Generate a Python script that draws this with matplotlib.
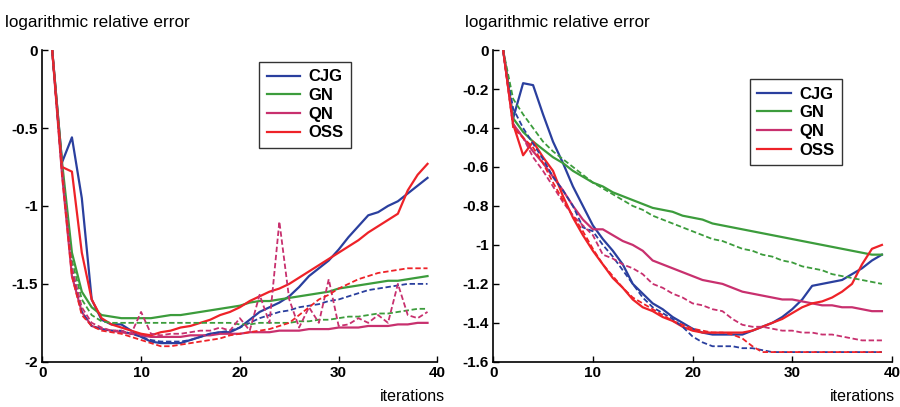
import numpy as np
import matplotlib as mpl
mpl.use('Agg')
from matplotlib import pyplot as plt
from matplotlib.ticker import FuncFormatter

# iterations 1..39
iters = np.arange(1, 40)
methods = ['CJG', 'GN', 'QN', 'OSS']
colors = {'CJG': '#2a3f9e', 'GN': '#3c9c3c', 'QN': '#c8306e', 'OSS': '#ee2228'}

# left panel, solid curves
left_solid = {
    'CJG': [0, -0.72, -0.56, -0.95, -1.6, -1.73, -1.76, -1.76, -1.8, -1.84, -1.87, -1.88, -1.88,
            -1.88, -1.86, -1.84, -1.82, -1.81, -1.81, -1.78, -1.73, -1.68, -1.65, -1.62, -1.58,
            -1.52, -1.45, -1.4, -1.35, -1.28, -1.2, -1.13, -1.06, -1.04, -1.0, -0.97, -0.92,
            -0.87, -0.82],
    'GN': [0, -0.72, -1.3, -1.55, -1.65, -1.7, -1.71, -1.72, -1.72, -1.72, -1.72, -1.71, -1.7,
           -1.7, -1.69, -1.68, -1.67, -1.66, -1.65, -1.64, -1.62, -1.61, -1.61, -1.6, -1.59,
           -1.58, -1.57, -1.56, -1.55, -1.53, -1.52, -1.51, -1.5, -1.49, -1.48, -1.48, -1.47,
           -1.46, -1.45],
    'QN': [0, -0.8, -1.45, -1.68, -1.77, -1.79, -1.8, -1.81, -1.82, -1.83, -1.84, -1.84, -1.84,
           -1.84, -1.83, -1.83, -1.83, -1.82, -1.82, -1.82, -1.81, -1.81, -1.81, -1.8, -1.8,
           -1.8, -1.79, -1.79, -1.79, -1.78, -1.78, -1.78, -1.77, -1.77, -1.77, -1.76, -1.76,
           -1.75, -1.75],
    'OSS': [0, -0.75, -0.78, -1.3, -1.6, -1.72, -1.76, -1.78, -1.8, -1.82, -1.83, -1.81, -1.8,
            -1.78, -1.77, -1.75, -1.73, -1.7, -1.68, -1.65, -1.61, -1.58, -1.55, -1.53, -1.5,
            -1.46, -1.42, -1.38, -1.34, -1.3, -1.26, -1.22, -1.17, -1.13, -1.09, -1.05, -0.9,
            -0.8, -0.73],
}
# left panel, dashed curves
left_dashed = {
    'CJG': [0, -0.78, -1.4, -1.68, -1.77, -1.79, -1.8, -1.8, -1.82, -1.84, -1.86, -1.87, -1.87,
            -1.87, -1.86, -1.84, -1.82, -1.81, -1.8, -1.78, -1.75, -1.72, -1.7, -1.68, -1.67,
            -1.65, -1.64, -1.63, -1.61, -1.6, -1.58, -1.56, -1.54, -1.53, -1.52, -1.51, -1.5,
            -1.5, -1.5],
    'GN': [0, -0.75, -1.35, -1.6, -1.7, -1.74, -1.75, -1.75, -1.75, -1.75, -1.75, -1.75, -1.75,
           -1.75, -1.75, -1.75, -1.75, -1.75, -1.75, -1.76, -1.76, -1.75, -1.75, -1.75, -1.75,
           -1.74, -1.74, -1.73, -1.73, -1.72, -1.71, -1.71, -1.7, -1.69, -1.69, -1.68, -1.67,
           -1.66, -1.66],
    'QN': [0, -0.75, -1.4, -1.65, -1.75, -1.78, -1.8, -1.8, -1.82, -1.68, -1.82, -1.83, -1.82,
           -1.82, -1.81, -1.8, -1.8, -1.78, -1.8, -1.72, -1.8, -1.57, -1.75, -1.1, -1.6,
           -1.78, -1.65, -1.75, -1.47, -1.77, -1.76, -1.72, -1.75, -1.7, -1.75, -1.5, -1.7,
           -1.72, -1.68],
    'OSS': [0, -0.8, -1.45, -1.7, -1.77, -1.8, -1.81, -1.82, -1.84, -1.86, -1.88, -1.9, -1.9,
            -1.89, -1.88, -1.87, -1.86, -1.85, -1.83, -1.82, -1.81, -1.8, -1.79, -1.77, -1.75,
            -1.7, -1.65, -1.6, -1.57, -1.53, -1.5, -1.47, -1.45, -1.43, -1.42, -1.41, -1.4,
            -1.4, -1.4],
}

# right panel, solid curves
right_solid = {
    'CJG': [0, -0.35, -0.17, -0.18, -0.33, -0.47, -0.58, -0.7, -0.8, -0.9, -0.97, -1.03, -1.1,
            -1.2, -1.25, -1.3, -1.33, -1.37, -1.4, -1.43, -1.45, -1.46, -1.46, -1.46, -1.46,
            -1.44, -1.42, -1.4, -1.37, -1.33, -1.28, -1.21, -1.2, -1.19, -1.18, -1.15, -1.12,
            -1.08, -1.05],
    'GN': [0, -0.35, -0.42, -0.47, -0.51, -0.55, -0.58, -0.62, -0.65, -0.68, -0.7, -0.73, -0.75,
           -0.77, -0.79, -0.81, -0.82, -0.83, -0.85, -0.86, -0.87, -0.89, -0.9, -0.91, -0.92,
           -0.93, -0.94, -0.95, -0.96, -0.97, -0.98, -0.99, -1.0, -1.01, -1.02, -1.03, -1.04,
           -1.05, -1.05],
    'QN': [0, -0.38, -0.45, -0.52, -0.58, -0.65, -0.72, -0.8, -0.87, -0.92, -0.92, -0.95, -0.98,
           -1.0, -1.03, -1.08, -1.1, -1.12, -1.14, -1.16, -1.18, -1.19, -1.2, -1.22, -1.24,
           -1.25, -1.26, -1.27, -1.28, -1.28, -1.29, -1.3, -1.31, -1.31, -1.32, -1.32, -1.33,
           -1.34, -1.34],
    'OSS': [0, -0.38, -0.54, -0.47, -0.55, -0.62, -0.75, -0.86, -0.95, -1.03, -1.1, -1.17, -1.22,
            -1.28, -1.32, -1.34, -1.37, -1.39, -1.42, -1.44, -1.45, -1.45, -1.45, -1.45, -1.45,
            -1.44, -1.42, -1.4, -1.38, -1.35, -1.32, -1.3, -1.29, -1.27, -1.24, -1.2, -1.1,
            -1.02, -1.0],
}
# right panel, dashed curves
right_dashed = {
    'CJG': [0, -0.3, -0.4, -0.48, -0.56, -0.65, -0.72, -0.8, -0.91, -0.93, -1.0, -1.06, -1.13,
            -1.2, -1.27, -1.32, -1.35, -1.38, -1.42, -1.47, -1.5, -1.52, -1.52, -1.52, -1.53,
            -1.53, -1.54, -1.55, -1.55, -1.55, -1.55, -1.55, -1.55, -1.55, -1.55, -1.55, -1.55,
            -1.55, -1.55],
    'GN': [0, -0.25, -0.33, -0.4, -0.47, -0.52, -0.56, -0.6, -0.64, -0.68, -0.71, -0.74, -0.77,
           -0.8, -0.82, -0.85, -0.87, -0.89, -0.91, -0.93, -0.95, -0.97, -0.98, -1.0, -1.02,
           -1.03, -1.05, -1.06, -1.08, -1.09, -1.11, -1.12, -1.13, -1.15, -1.16, -1.17, -1.18,
           -1.19, -1.2],
    'QN': [0, -0.38, -0.45, -0.55, -0.62, -0.7, -0.78, -0.85, -0.9, -0.95, -1.05, -1.07, -1.1,
           -1.12, -1.15, -1.2, -1.22, -1.25, -1.27, -1.3, -1.31, -1.33, -1.34, -1.38, -1.41,
           -1.42, -1.42, -1.43, -1.44, -1.44, -1.45, -1.45, -1.46, -1.46, -1.47, -1.48, -1.49,
           -1.49, -1.49],
    'OSS': [0, -0.4, -0.45, -0.5, -0.58, -0.68, -0.77, -0.85, -0.93, -1.02, -1.1, -1.16, -1.22,
            -1.27, -1.3, -1.33, -1.36, -1.39, -1.41, -1.43, -1.44, -1.45, -1.45, -1.46, -1.48,
            -1.52, -1.55, -1.55, -1.55, -1.55, -1.55, -1.55, -1.55, -1.55, -1.55, -1.55, -1.55,
            -1.55, -1.55],
}

left_yticks = [0, -0.5, -1, -1.5, -2]
right_yticks = [0, -0.2, -0.4, -0.6, -0.8, -1, -1.2, -1.4, -1.6]
xticks = [0, 10, 20, 30, 40]

mpl.rcParams.update({'font.family': 'Liberation Sans'})


def draw_panel(fig, rect, solid, dashed, yticks, ylim, legend_box, title_x, xlabel_x):
    ax = fig.add_axes(rect)
    for m in methods:
        ax.plot(iters, solid[m], color=colors[m], lw=1.6, label=m)
    for m in methods:
        ax.plot(iters, dashed[m], color=colors[m], lw=1.3, ls=(0, (3, 1.5)))

    ax.set_xlim(0, 40)
    ax.set_ylim(*ylim)
    ax.set_xticks(xticks)
    ax.set_yticks(yticks)
    ax.yaxis.set_major_formatter(FuncFormatter(lambda v, p: '%g' % v))
    ax.tick_params(direction='in', length=4, width=1, labelsize=11, pad=3)
    for lab in ax.get_xticklabels() + ax.get_yticklabels():
        lab.set_fontweight('bold')
    ax.spines['top'].set_visible(False)
    ax.spines['right'].set_visible(False)
    for s in ('left', 'bottom'):
        ax.spines[s].set_linewidth(1.2)

    leg = ax.legend(loc='upper left', bbox_to_anchor=legend_box, frameon=True,
                    fancybox=False, edgecolor='black', handlelength=2.0,
                    borderpad=0.45, labelspacing=0.22, handletextpad=0.5,
                    borderaxespad=0, prop={'weight': 'bold', 'size': 12})
    leg.get_frame().set_linewidth(1.0)
    ax.text(title_x, 1.09, 'logarithmic relative error', transform=ax.transAxes,
            fontsize=12.3, ha='left', va='center')
    ax.text(xlabel_x, -0.112, 'iterations', transform=ax.transAxes,
            fontsize=11.5, ha='right', va='center')
    return ax


fig = plt.figure(figsize=(9, 4.07), dpi=100, facecolor='w')
draw_panel(fig, [0.047, 0.111, 0.439, 0.766], left_solid, left_dashed,
           left_yticks, (-2, 0), (0.549, 0.962), -0.094, 1.02)
draw_panel(fig, [0.548, 0.111, 0.443, 0.766], right_solid, right_dashed,
           right_yticks, (-1.6, 0), (0.644, 0.907), -0.07, 1.007)
fig.savefig('out.png', dpi=100)
